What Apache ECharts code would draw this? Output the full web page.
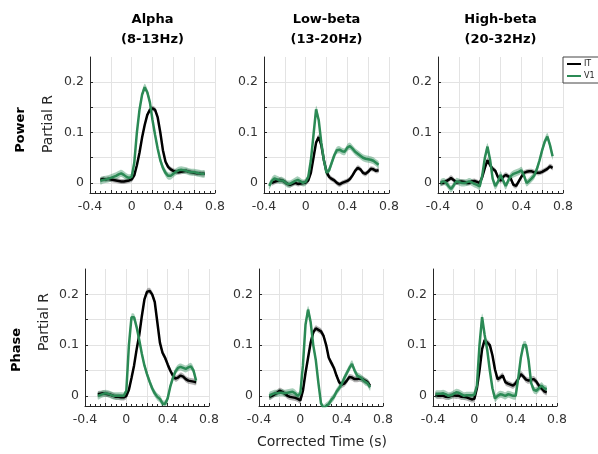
<!DOCTYPE html>
<html>
<head>
<meta charset="utf-8">
<script src="https://cdn.jsdelivr.net/npm/echarts@6/dist/echarts.min.js"></script>
<style>
html, body { margin: 0; padding: 0; background: #fff; }
#chart { width: 598px; height: 454px; }
</style>
</head>
<body>
<div id="chart"></div>
<script>
// sampling step of every trace (s)
const step = 0.025;

const colTitles = ['Alpha\n(8-13Hz)', 'Low-beta\n(13-20Hz)', 'High-beta\n(20-32Hz)'];
const rowNames = ['Power', 'Phase'];
const xLabelValues = [-0.4, 0, 0.4, 0.8];
const yLabelValues = [0, 0.1, 0.2];
const yTickValues = [0, 0.05, 0.1, 0.15, 0.2];

// first sample time of each trace, per panel (alpha, low-beta, high-beta)
const powStartIT = [-0.3, -0.325, -0.375];
const powStartV1 = [-0.3, -0.35, -0.375];
const phsStartIT = [-0.275, -0.3, -0.375];
const phsStartV1 = [-0.275, -0.3, -0.375];

// half width of the shaded error band
const semPow = { IT: 0.005, V1: 0.007 };
const semPhs = { IT: 0.006, V1: 0.007 };

// ---- Power ----
const powAlphaIT = [0.006,0.008,0.007,0.008,0.007,0.006,0.005,0.004,0.003,0.003,0.004,0.005,0.007,
  0.015,0.035,0.06,0.09,0.115,0.135,0.145,0.148,0.145,0.13,0.1,0.065,0.042,0.032,0.027,0.024,0.022,
  0.021,0.022,0.023,0.024,0.022,0.021,0.02,0.019,0.019,0.018,0.018];
const powAlphaV1 = [0.004,0.006,0.007,0.008,0.01,0.012,0.014,0.017,0.019,0.016,0.012,0.01,0.012,
  0.04,0.1,0.145,0.175,0.19,0.18,0.16,0.125,0.095,0.068,0.045,0.03,0.02,0.014,0.014,0.018,0.022,
  0.025,0.026,0.025,0.024,0.022,0.021,0.021,0.02,0.019,0.018,0.018];
const powLowIT = [0.0,0.002,0.004,0.006,0.005,0.002,-0.002,-0.004,-0.002,0.0,-0.002,-0.001,0.0,0.001,
  0.005,0.02,0.05,0.08,0.091,0.075,0.045,0.022,0.012,0.008,0.005,0.0,-0.003,0.0,0.002,0.004,0.008,
  0.015,0.024,0.03,0.027,0.02,0.018,0.022,0.028,0.027,0.024,0.025];
const powLowV1 = [-0.006,0.004,0.009,0.007,0.005,0.005,0.002,-0.002,-0.002,0.001,0.004,0.006,0.003,0.0,
  0.002,0.012,0.045,0.095,0.146,0.125,0.08,0.045,0.02,0.025,0.04,0.055,0.065,0.066,0.063,0.062,0.07,
  0.073,0.068,0.062,0.058,0.054,0.05,0.048,0.047,0.046,0.044,0.04,0.036];
const powHighIT = [0.0,0.0,0.003,0.006,0.01,0.006,0.001,0.002,0.003,0.002,0.0,0.0,0.003,0.004,0.002,
  0.0,0.012,0.03,0.045,0.035,0.028,0.024,0.012,0.004,0.012,0.016,0.013,0.008,-0.004,-0.006,0.003,
  0.012,0.02,0.022,0.023,0.023,0.021,0.02,0.02,0.022,0.025,0.028,0.033,0.03];
const powHighV1 = [0.0,0.003,0.001,-0.006,-0.012,-0.005,0.003,0.002,0.0,0.0,0.001,0.003,0.001,-0.002,
  -0.004,-0.007,0.015,0.05,0.072,0.046,0.008,-0.006,0.002,0.016,0.005,-0.006,0.005,0.014,0.018,0.02,
  0.022,0.025,0.015,0.0,0.004,0.009,0.015,0.028,0.045,0.065,0.082,0.092,0.075,0.053];

// ---- Phase ----
const phsAlphaIT = [0.003,0.004,0.005,0.004,0.003,0.002,0.0,-0.002,-0.002,-0.003,-0.003,0.0,
  0.012,0.035,0.06,0.092,0.12,0.157,0.19,0.205,0.207,0.2,0.185,0.145,0.105,0.085,0.075,0.062,0.05,
  0.04,0.034,0.036,0.04,0.038,0.033,0.03,0.029,0.028,0.027];
const phsAlphaV1 = [0.0,0.002,0.004,0.005,0.004,0.002,0.0,0.0,0.0,0.0,0.0,0.01,
  0.1,0.155,0.155,0.135,0.11,0.083,0.06,0.043,0.028,0.015,0.005,-0.002,-0.006,-0.015,-0.016,-0.005,
  0.018,0.035,0.048,0.055,0.057,0.055,0.053,0.056,0.058,0.05,0.03];
const phsLowIT = [-0.002,0.0,0.003,0.006,0.01,0.008,0.004,0.0,-0.002,-0.003,-0.004,-0.006,-0.009,
  0.01,0.045,0.075,0.105,0.125,0.133,0.13,0.127,0.118,0.1,0.075,0.065,0.055,0.04,0.027,0.022,0.024,
  0.03,0.037,0.036,0.033,0.033,0.034,0.033,0.03,0.027,0.02];
const phsLowV1 = [0.0,0.003,0.005,0.005,0.006,0.006,0.005,0.006,0.007,0.008,0.005,0.0,0.005,
  0.06,0.14,0.17,0.145,0.1,0.07,0.025,-0.015,-0.024,-0.02,-0.016,-0.008,-0.002,0.008,0.015,0.023,
  0.035,0.045,0.055,0.063,0.05,0.04,0.037,0.033,0.028,0.025,0.017];
const phsHighIT = [0.002,0.0,0.0,0.0,-0.002,-0.002,0.0,0.001,0.0,0.0,-0.002,-0.002,-0.003,-0.005,
  -0.007,-0.006,0.015,0.05,0.092,0.11,0.105,0.1,0.08,0.052,0.033,0.036,0.04,0.027,0.024,0.022,0.02,
  0.025,0.033,0.043,0.038,0.032,0.03,0.032,0.033,0.028,0.02,0.015,0.009,0.007];
const phsHighV1 = [0.003,0.004,0.004,0.005,0.003,0.0,0.001,0.004,0.007,0.006,0.003,0.0,0.001,0.001,
  0.001,0.002,0.02,0.1,0.155,0.12,0.09,0.05,0.015,-0.005,0.0,0.003,0.002,0.0,0.003,0.002,0.0,0.0,
  0.035,0.075,0.1,0.1,0.07,0.025,0.012,0.01,0.015,0.02,0.015,0.013];

const colorIT = '#000000';
const colorV1 = '#2b8a55';
const bandIT = 'rgba(0,0,0,0.3)';
const bandV1 = 'rgba(46,139,87,0.42)';

const panels = [
  { it: powAlphaIT, v1: powAlphaV1, itStart: powStartIT[0], v1Start: powStartV1[0], sem: semPow },
  { it: powLowIT, v1: powLowV1, itStart: powStartIT[1], v1Start: powStartV1[1], sem: semPow },
  { it: powHighIT, v1: powHighV1, itStart: powStartIT[2], v1Start: powStartV1[2], sem: semPow },
  { it: phsAlphaIT, v1: phsAlphaV1, itStart: phsStartIT[0], v1Start: phsStartV1[0], sem: semPhs },
  { it: phsLowIT, v1: phsLowV1, itStart: phsStartIT[1], v1Start: phsStartV1[1], sem: semPhs },
  { it: phsHighIT, v1: phsHighV1, itStart: phsStartIT[2], v1Start: phsStartV1[2], sem: semPhs }
];

const font = 'DejaVu Sans';
const gridLeft = [[90, 264, 438], [85, 259, 433]];
const gridTop = [57, 269];
const gridH = [136, 137];
const gridW = [125, 124];

function traceSeries(name, start, vals, sem, color, band, idx) {
  let tOf = i => +(start + i * step).toFixed(3);
  let bandData = vals.map((v, i) => [tOf(i), v - sem, v + sem]);
  return [
    {
      type: 'custom', xAxisIndex: idx, yAxisIndex: idx, silent: true,
      encode: { x: 0, y: [1, 2] },
      data: bandData,
      renderItem: function (params, api) {
        if (params.dataIndex !== 0) return null;
        let up = bandData.map(d => api.coord([d[0], d[2]]));
        let lo = bandData.map(d => api.coord([d[0], d[1]])).reverse();
        let cs = params.coordSys;
        return {
          type: 'polygon', shape: { points: up.concat(lo), smooth: 0.3 },
          style: { fill: band },
          clipPath: { type: 'rect', shape: { x: cs.x, y: cs.y, width: cs.width, height: cs.height } }
        };
      }
    },
    { type: 'line', name: name, xAxisIndex: idx, yAxisIndex: idx, symbol: 'none', showSymbol: false,
      data: vals.map((v, i) => [tOf(i), v]),
      lineStyle: { color: color, width: 2.5 }, itemStyle: { color: color } }
  ];
}

let grids = [], xAxes = [], yAxes = [], series = [];
panels.forEach((p, k) => {
  let r = Math.floor(k / 3), c = k % 3;
  grids.push({ left: gridLeft[r][c], top: gridTop[r], width: gridW[r], height: gridH[r],
    outerBoundsMode: 'none' });
  xAxes.push({
    gridIndex: k, type: 'value', min: -0.4, max: 0.8, interval: 0.2,
    axisLine: { onZero: false, lineStyle: { color: '#262626', width: 1 } },
    axisTick: { inside: true, length: 3, lineStyle: { color: '#262626' } },
    minorTick: { show: true, splitNumber: 4, length: 2, lineStyle: { color: '#262626' } },
    axisLabel: { customValues: xLabelValues, margin: 7, color: '#333', fontSize: 12.5, fontFamily: font },
    splitLine: { show: true, lineStyle: { color: '#e3e3e3', width: 1 } }
  });
  yAxes.push({
    gridIndex: k, type: 'value', min: -0.02, max: 0.25,
    axisLine: { show: true, onZero: false, lineStyle: { color: '#262626', width: 1 } },
    axisTick: { show: true, inside: true, length: 3, customValues: yTickValues, lineStyle: { color: '#262626' } },
    axisLabel: { customValues: yLabelValues, margin: 6, color: '#333', fontSize: 12.5, fontFamily: font },
    splitLine: { show: true, lineStyle: { color: '#e3e3e3', width: 1 } }
  });
  series.push(...traceSeries('IT', p.itStart, p.it, p.sem.IT, colorIT, bandIT, k));
  series.push(...traceSeries('V1', p.v1Start, p.v1, p.sem.V1, colorV1, bandV1, k));
});

let graphics = [];
colTitles.forEach((t, c) => {
  graphics.push({ type: 'text', x: gridLeft[0][c] + gridW[0] / 2, y: 30,
    style: { text: t, fontFamily: font, fontSize: 13, fontWeight: 'bold', fill: '#000',
      textAlign: 'center', textVerticalAlign: 'middle', lineHeight: 20 } });
});
const rowLabelY = [[130, 124], [350, 322]];
const rowLabelX = [[21, 48], [17, 44]];
rowNames.forEach((n, r) => {
  graphics.push({ type: 'text', x: rowLabelX[r][0], y: rowLabelY[r][0], rotation: Math.PI / 2,
    style: { text: n, fontFamily: font, fontSize: 13, fontWeight: 'bold', fill: '#000',
      textAlign: 'center', textVerticalAlign: 'middle' } });
  graphics.push({ type: 'text', x: rowLabelX[r][1], y: rowLabelY[r][1], rotation: Math.PI / 2,
    style: { text: 'Partial R', fontFamily: font, fontSize: 14, fill: '#262626',
      textAlign: 'center', textVerticalAlign: 'middle' } });
});
graphics.push({ type: 'text', x: 322, y: 442,
  style: { text: 'Corrected Time (s)', fontFamily: font, fontSize: 14, fill: '#262626',
    textAlign: 'center', textVerticalAlign: 'middle' } });

let chart = echarts.init(document.getElementById('chart'));
chart.setOption({
  animation: false,
  backgroundColor: '#fff',
  legend: {
    data: ['IT', 'V1'], orient: 'vertical', left: 563, top: 57,
    icon: 'rect', itemWidth: 14, itemHeight: 2, itemGap: 4,
    padding: [3, 6, 3, 4], borderColor: '#444', borderWidth: 1, backgroundColor: '#fff',
    textStyle: { fontFamily: font, fontSize: 8, color: '#222', padding: [0, 0, 0, -2] }
  },
  grid: grids,
  xAxis: xAxes,
  yAxis: yAxes,
  series: series,
  graphic: graphics
});
</script>
</body>
</html>
